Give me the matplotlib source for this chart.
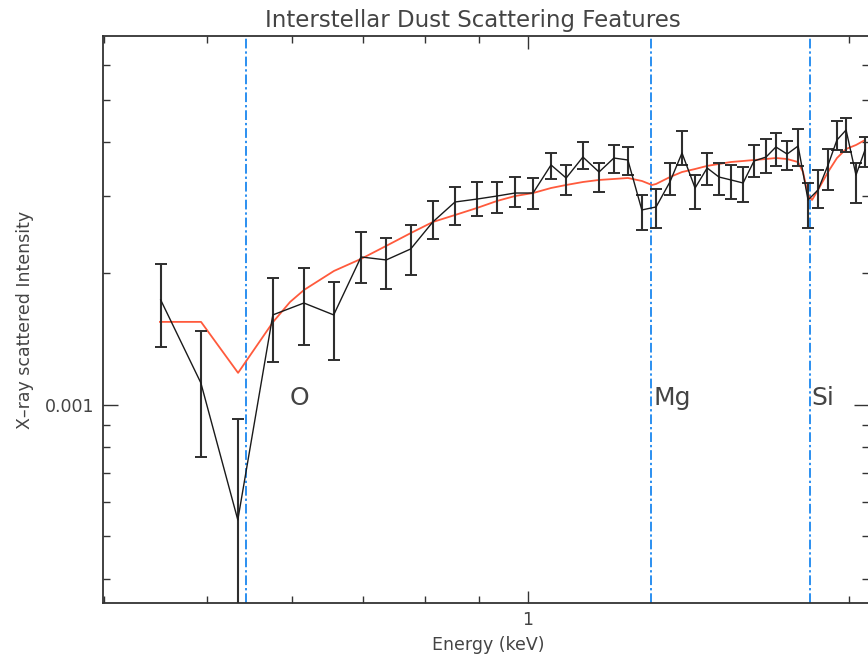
import matplotlib
matplotlib.use("Agg")
import matplotlib.pyplot as plt
from matplotlib.ticker import LogLocator, NullFormatter, FixedLocator, FixedFormatter
import numpy as np

# ---- data ----
energy = [0.452, 0.493, 0.534, 0.576, 0.616, 0.657, 0.697, 0.736, 0.776, 0.814,
          0.854, 0.896, 0.935, 0.972, 1.011, 1.051, 1.086, 1.126, 1.166, 1.204,
          1.241, 1.279, 1.319, 1.359, 1.395, 1.435, 1.473, 1.511, 1.551, 1.592,
          1.630, 1.673, 1.709, 1.751, 1.793, 1.832, 1.872, 1.913, 1.950, 1.989,
          2.032, 2.072]
intensity = [1.739, 1.123, 0.5455, 1.607, 1.711, 1.607, 2.181, 2.147, 2.275, 2.623,
             2.914, 2.960, 3.007, 3.055, 3.055, 3.542, 3.307, 3.693, 3.413, 3.674,
             3.636, 2.794, 2.839, 3.238, 3.772, 3.137, 3.486, 3.324, 3.273, 3.221,
             3.617, 3.693, 3.894, 3.752, 3.914, 2.945, 3.105, 3.542, 4.040, 4.259,
             3.359, 3.833]  # units of 1e-3
err_high = [2.102, 1.477, 0.929, 1.952, 2.058, 1.912, 2.488, 2.411, 2.582, 2.930,
            3.154, 3.238, 3.238, 3.324, 3.307, 3.772, 3.542, 3.998, 3.579, 3.936,
            3.894, 3.023, 3.121, 3.579, 4.236, 3.359, 3.772, 3.579, 3.542, 3.505,
            3.936, 4.061, 4.192, 4.019, 4.281, 3.221, 3.450, 3.853, 4.466, 4.537,
            3.579, 4.105]
err_low = [1.357, 0.760, 0.01, 1.254, 1.372, 1.268, 1.902, 1.843, 1.984, 2.398,
           2.582, 2.707, 2.750, 2.839, 2.809, 3.290, 3.023, 3.467, 3.071, 3.395,
           3.359, 2.514, 2.541, 3.023, 3.542, 2.809, 3.187, 3.023, 2.960, 2.914,
           3.324, 3.395, 3.524, 3.450, 3.524, 2.541, 2.824, 3.105, 3.833, 3.793,
           2.899, 3.505]

model_energy = [0.4513, 0.4932, 0.5343, 0.5764, 0.5978, 0.6162, 0.6574, 0.6970, 0.7357,
                0.7764, 0.8142, 0.8541, 0.8957, 0.9352, 0.9723, 1.0109, 1.0510, 1.0857,
                1.1262, 1.1659, 1.2042, 1.2411, 1.2794, 1.3074, 1.3188, 1.3593, 1.3951,
                1.4348, 1.4725, 1.5112, 1.5509, 1.5917, 1.6299, 1.6728, 1.7094, 1.7505,
                1.7925, 1.8122, 1.8318, 1.8478, 1.8718, 1.9128, 1.9502, 1.9888, 2.0324,
                2.0722]
model_intensity = [1.549, 1.549, 1.184, 1.549, 1.720, 1.833, 2.026, 2.159, 2.311,
                   2.475, 2.623, 2.721, 2.824, 2.930, 3.007, 3.055, 3.137, 3.187,
                   3.238, 3.273, 3.290, 3.307, 3.255, 3.187, 3.204, 3.324, 3.413,
                   3.467, 3.524, 3.561, 3.598, 3.617, 3.636, 3.655, 3.674, 3.655,
                   3.598, 3.413, 3.023, 2.945, 3.105, 3.413, 3.674, 3.853, 3.936,
                   4.040]

edge_names = ["O", "Mg", "Si"]
edge_energy = [0.543, 1.305, 1.839]
edge_label_energy = [0.597, 1.313, 1.846]

x_major = [1.0]
x_major_labels = ["1"]
y_major = [0.001]
y_major_labels = ["0.001"]

# ---- figure ----
W, H = 868, 659
fig = plt.figure(figsize=(W / 100, H / 100), dpi=100)
ax = fig.add_axes([103 / W, (H - 603) / H, 766 / W, 567 / H])

scale = 1e-3
I = np.array(intensity) * scale
hi = np.array(err_high) * scale
lo = np.array(err_low) * scale

text_col = "#444444"

for e in edge_energy:
    ax.axvline(e, color="#2b8ff0", lw=1.4, ls=(0, (5, 1.5, 1.2, 1.5)), zorder=1)

ax.errorbar(energy, I, yerr=[I - lo, hi - I], fmt="none", ecolor="#2e2e2e",
            elinewidth=1.5, capsize=4.0, capthick=1.4, zorder=3)
ax.plot(energy, I, color="#1a1a1a", lw=1.0, zorder=4)
ax.plot(model_energy, np.array(model_intensity) * scale, color="#ff5a3c", lw=1.3, zorder=2)

for name, xe in zip(edge_names, edge_label_energy):
    ax.text(xe, 0.001, name, fontsize=18, color=text_col, ha="left", va="baseline")

ax.set_xscale("log")
ax.set_yscale("log")
ax.set_xlim(0.399, 2.09)
ax.set_ylim(3.52e-4, 6.99e-3)

ax.xaxis.set_major_locator(FixedLocator(x_major))
ax.xaxis.set_major_formatter(FixedFormatter(x_major_labels))
ax.xaxis.set_minor_locator(LogLocator(base=10, subs=np.arange(2, 10)))
ax.xaxis.set_minor_formatter(NullFormatter())
ax.yaxis.set_major_locator(FixedLocator(y_major))
ax.yaxis.set_major_formatter(FixedFormatter(y_major_labels))
ax.yaxis.set_minor_locator(LogLocator(base=10, subs=np.arange(2, 10)))
ax.yaxis.set_minor_formatter(NullFormatter())

ax.tick_params(which="both", direction="in", top=True, right=True, color="#333333",
               labelcolor=text_col, labelsize=12.5, width=1.0)
ax.tick_params(axis="x", which="major", length=9, pad=6)
ax.tick_params(axis="y", which="major", length=11, pad=6)
ax.tick_params(which="minor", length=5)

for s in ax.spines.values():
    s.set_color("#333333")
    s.set_linewidth(1.3)

fig.text(473 / W, 1 - 27 / H, "Interstellar Dust Scattering Features", ha="center",
         va="baseline", fontsize=16.5, color=text_col)
fig.text(488 / W, 1 - 645 / H, "Energy (keV)", ha="center", va="center",
         fontsize=12.5, color=text_col)
fig.text(25 / W, 1 - 320 / H, "X\u2013ray scattered Intensity", ha="center", va="center",
         rotation=90, fontsize=12.5, color=text_col)

fig.savefig("out.png", dpi=100)
